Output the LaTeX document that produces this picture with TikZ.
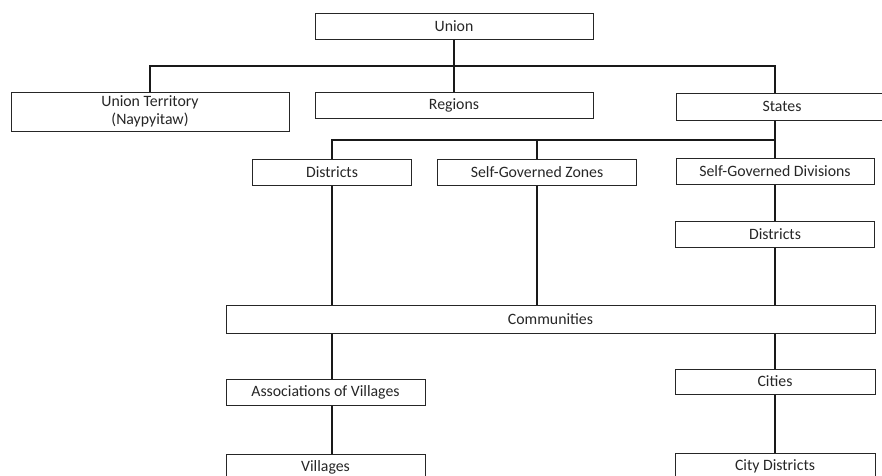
\documentclass[tikz,border=0pt]{standalone}
\usepackage{fontspec}
\setmainfont{Carlito}
\usepackage{tikz}
\usetikzlibrary{calc}

\begin{document}
\begin{tikzpicture}[
x=1pt, y=-1pt,
unit/.style={draw=black!85, line width=1pt, text=black!85, align=center, inner sep=0pt, font=\fontsize{15.8}{18.5}\selectfont, minimum height=26pt},
link/.style={draw=black!90, line width=1.8pt}
]
\clip (0,0) rectangle (882,475);
% upper levels
\node[unit, minimum width=278pt] (union) at (454,26) {Union};
\node[unit, minimum width=278pt, minimum height=39pt] (territory) at (150,111.5) {Union Territory\\(Naypyitaw)};
\node[unit, minimum width=278pt] (regions) at (454,105) {Regions};
\node[unit, minimum width=212pt, minimum height=27pt] (states) at (782,106.5) {States};
% below the states
\node[unit, minimum width=159pt] (districtsA) at (332,172) {Districts};
\node[unit, minimum width=199pt] (zones) at (537,172) {Self-Governed Zones};
\node[unit, minimum width=198pt] (divisions) at (775,171) {Self-Governed Divisions};
\node[unit, minimum width=199pt] (districtsB) at (775,234) {Districts};
\node[unit, minimum width=649pt, minimum height=28pt] (communities) at (550.5,319) {Communities};
% lowest levels
\node[unit, minimum width=199pt] (assoc) at (325.5,392) {Associations of Villages};
\node[unit, minimum width=199pt] (villages) at (325.5,467) {Villages};
\node[unit, minimum width=200pt, minimum height=25pt] (cities) at (775,381.5) {Cities};
\node[unit, minimum width=200pt] (citydistricts) at (775,466) {City Districts};

\coordinate (topbus) at (0,66);
\coordinate (midbus) at (0,140);
\draw[link, line width=1.4pt] (union) -- (regions);
\draw[link, line width=1.4pt] (territory.north) |- (topbus -| divisions.north) -- (divisions.north |- states.north);
\draw[link] (districtsA.north) |- (midbus -| divisions.north);
\draw[link, line width=1.4pt] (zones.north) -- (zones.north |- midbus);
\draw[link, line width=1.4pt] (divisions.north |- states.south) -- (divisions.north);
\draw[link] (districtsA.south) -- (districtsA.south |- communities.north);
\draw[link] (zones.south) -- (zones.south |- communities.north);
\draw[link, line width=1.4pt] (divisions) -- (districtsB);
\draw[link] (districtsB.south) -- (districtsB.south |- communities.north);
\draw[link] (districtsA.south |- communities.south) -- (districtsA.south |- assoc.north);
\draw[link] (districtsA.south |- assoc.south) -- (districtsA.south |- villages.north);
\draw[link] (communities.south -| cities.north) -- (cities.north);
\draw[link] (cities) -- (citydistricts);
\end{tikzpicture}
\end{document}
